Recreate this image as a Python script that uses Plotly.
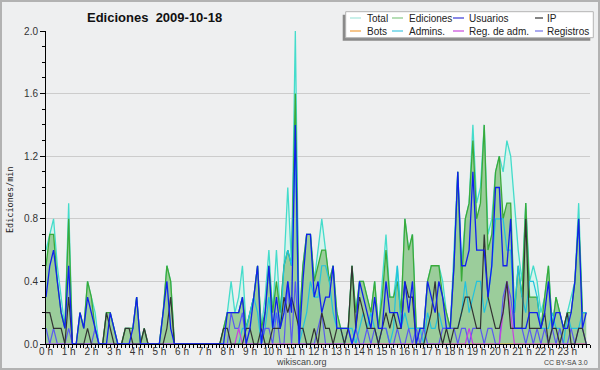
import pandas as pd
import plotly.graph_objects as go

# ---- data: 10-minute steps of 2009-10-18, values in edits/min ----
times = pd.date_range("2009-10-18 00:00", periods=144, freq="10min")
hour_ticks = pd.date_range("2009-10-18 00:00", periods=24, freq="h")
hour_labels = ["0 h", "1 h", "2 h", "3 h", "4 h", "5 h", "6 h", "7 h", "8 h", "9 h", "10 h", "11 h",
               "12 h", "13 h", "14 h", "15 h", "16 h", "17 h", "18 h", "19 h", "20 h", "21 h", "22 h", "23 h"]

total = [0.6,0.7,0.8,0.5,0.3,0.1, 0.9,0,0,0.2,0.1,0.4, 0.3,0.2,0,0,0.2,0.2, 0.1,0,0,0.1,0.1,0.1,
         0.3,0,0.1,0,0,0, 0,0.2,0.5,0.4,0,0, 0,0,0,0,0,0, 0,0,0,0,0,0.1,
         0.2,0.4,0.2,0.3,0.5,0.1, 0.2,0.3,0.5,0.1,0.3,0.6, 0.2,0.6,0.2,0.5,1.0,0.5, 2.0,0.1,0.5,0.7,0.7,0.4,
         0.6,0.8,0.6,0.4,0.5,0.2, 0.1,0.1,0.1,0.5,0.2,0.4, 0.4,0.3,0.2,0.4,0.1,0.4, 0.7,0.3,0.3,0.5,0.2,0.8,
         0.6,0.7,0.1,0.1,0.1,0.4, 0.5,0.5,0.5,0.4,0.2,0.1, 0.6,1.1,0.5,0.8,0.9,1.4, 0.9,1.0,1.4,0.7,0.8,1.1,
         1.2,1.1,1.3,1.2,0.9,0.6, 0.4,0.9,0.4,0.5,0.4,0.2, 0.3,0.5,0.1,0.3,0.2,0.1, 0.2,0.3,0.4,0.9,0.2,0.2]

ediciones = [0.5,0.7,0.7,0.4,0.2,0.1, 0.8,0,0,0.2,0.1,0.4, 0.3,0.1,0,0,0.2,0.2, 0.1,0,0,0.1,0.1,0.1,
             0.3,0,0.1,0,0,0, 0,0.2,0.5,0.4,0,0, 0,0,0,0,0,0, 0,0,0,0,0,0.1,
             0.2,0.2,0.2,0.2,0.3,0.1, 0.2,0.3,0.5,0.1,0.2,0.5, 0.2,0.4,0.2,0.5,0.6,0.5, 1.6,0.1,0.5,0.7,0.7,0.4,
             0.5,0.6,0.6,0.4,0.5,0.2, 0.1,0.1,0.1,0.5,0.2,0.4, 0.4,0.3,0.2,0.4,0.1,0.3, 0.6,0.3,0.3,0.4,0.2,0.8,
             0.6,0.7,0.1,0.1,0.1,0.4, 0.5,0.5,0.5,0.3,0.2,0.1, 0.5,1.1,0.4,0.8,0.9,1.3, 0.8,0.9,1.4,0.6,0.7,1.1,
             1.2,0.8,0.9,0.9,0.2,0.5, 0.3,0.9,0.3,0.3,0.3,0.1, 0.3,0.5,0.1,0.3,0.2,0.1, 0.2,0.2,0.4,0.8,0.2,0.2]

usuarios = [0.3,0.5,0.6,0.4,0.2,0.1, 0.5,0,0,0.2,0.1,0.3, 0.2,0.1,0,0,0,0.2, 0.1,0,0,0,0,0.1,
            0.3,0,0,0,0,0, 0,0.2,0.4,0.1,0,0, 0,0,0,0,0,0, 0,0,0,0,0,0,
            0.2,0.2,0.2,0.2,0.3,0, 0.1,0.3,0.5,0,0.2,0.5, 0.1,0.3,0.1,0.2,0.4,0.2, 1.4,0,0.4,0.7,0.7,0.3,
            0.4,0.2,0.3,0.3,0.5,0.1, 0.1,0.1,0.1,0,0.1,0.4, 0.3,0.2,0.1,0.3,0.1,0.1, 0.4,0.2,0.2,0.2,0.1,0.4,
            0.2,0.4,0,0.1,0.1,0.4, 0.3,0.2,0.4,0.3,0.1,0.1, 0.5,1.1,0.5,0.5,0.6,1.1, 0.6,0.6,0.6,0.3,0.5,1.0,
            1.0,0.5,0.5,0.8,0.1,0.1, 0.1,0.1,0.2,0.2,0.2,0.1, 0.2,0.4,0.1,0.2,0.2,0.1, 0.1,0.2,0.4,0.8,0.1,0.2]

ip = [0.2,0.2,0.1,0.1,0.1,0, 0.3,0,0,0,0,0.1, 0,0,0,0,0.2,0.1, 0,0,0,0.1,0.1,0,
      0,0,0.1,0,0,0, 0,0,0.1,0.3,0,0, 0,0,0,0,0,0, 0,0,0,0,0,0.1,
      0.1,0,0,0,0,0.1, 0.1,0,0,0.1,0,0, 0.1,0.1,0.1,0.3,0.2,0.3, 0.2,0.1,0.1,0,0,0.1,
      0,0.2,0.1,0.1,0,0.1, 0.1,0,0.1,0.5,0.1,0.3, 0.2,0.1,0.1,0.1,0,0.1, 0.2,0.1,0.2,0.1,0.1,0.4,
      0.3,0.3,0,0,0,0.1, 0.2,0.4,0.1,0,0.1,0, 0.1,0.1,0.2,0.3,0.3,0.2, 0.1,0.1,0.7,0.3,0.2,0.1,
      0.1,0.2,0.4,0.1,0.1,0.1, 0.1,0.8,0.1,0.1,0.1,0.1, 0.2,0,0.1,0.1,0,0.1, 0.2,0,0,0.1,0.1,0]

bots = [0] * 144

admins = [0,0,0,0,0,0, 0,0,0,0,0,0, 0,0,0,0,0,0, 0,0,0,0,0,0,
          0,0,0,0,0,0, 0,0,0,0,0,0, 0,0,0,0,0,0, 0,0,0,0,0,0,
          0,0,0,0,0.1,0.1, 0.2,0.3,0.2,0,0.1,0.3, 0.1,0.2,0.1,0.5,0.6,0.5, 1.3,0,0.1,0.2,0.4,0.3,
          0.3,0.5,0.5,0.4,0.2,0.1, 0.1,0,0.1,0.1,0,0.1, 0.2,0.1,0.2,0.1,0,0.1, 0.1,0,0.1,0.5,0.1,0.2,
          0.1,0.1,0.1,0.1,0,0.2, 0.1,0.1,0.2,0.1,0.1,0.1, 0.1,0.1,0.2,0.4,0.2,0.3, 0.4,0.4,0.2,0.3,0.5,0.8,
          0.8,0.8,0.6,0.6,0.2,0.5, 0.3,0.2,0.4,0.4,0.3,0.1, 0.1,0.1,0.2,0.1,0.1,0, 0.2,0.1,0.1,0.1,0.2,0.2]

reg_adm = [0,0,0,0,0,0, 0,0,0,0,0,0, 0,0,0,0,0,0, 0,0,0,0,0,0,
           0,0,0,0,0,0, 0,0,0,0,0,0, 0,0,0,0,0,0, 0,0,0,0,0,0,
           0,0,0,0.1,0,0, 0,0,0,0,0,0, 0,0,0,0,0,0, 0,0,0,0,0,0,
           0,0,0,0,0,0, 0,0,0,0,0,0, 0,0,0,0,0,0, 0,0,0,0,0,0,
           0,0,0,0,0,0, 0,0,0,0,0,0, 0,0,0,0,0.1,0, 0,0,0,0,0,0,
           0,0.2,0.4,0.2,0,0, 0,0,0,0,0,0, 0,0,0,0,0,0, 0,0,0,0,0,0]

registros = [0.1,0,0.1,0,0,0, 0.1,0,0,0,0,0, 0,0.1,0,0,0,0, 0,0,0,0,0,0,
             0,0,0,0,0,0, 0,0,0,0,0,0, 0,0,0,0,0,0, 0,0,0,0,0,0,
             0,0.2,0.1,0.1,0.2,0, 0,0,0,0,0.1,0.1, 0,0.2,0,0,0.4,0, 0.4,0,0,0,0,0,
             0.1,0.2,0,0,0,0, 0,0,0.1,0,0.1,0, 0,0.1,0,0.1,0,0.1, 0.1,0,0,0.1,0,0,
             0.1,0,0.1,0,0.1,0, 0,0,0,0.1,0.1,0.1, 0.1,0,0.1,0.1,0,0.1, 0.1,0.1,0,0.1,0.1,0,
             0,0.3,0.4,0.3,0.1,0.1, 0.1,0,0.1,0,0.1,0, 0.1,0,0.1,0,0.1,0, 0,0.1,0,0.1,0.1,0]

legend_labels = ["Total", "Ediciones", "Usuarios", "IP", "Bots", "Admins.", "Reg. de adm.", "Registros"]
legend_colors = ["#a6e6dc", "#86c886", "#3a3ad6", "#333333", "#f0a040", "#44c6e0", "#c848dc", "#7272e6"]

title_text = "Ediciones\u00a0\u00a02009-10-18"
y_title = "Ediciones/min"
FONT = "Liberation Sans, Arial, sans-serif"
BG = "#eeeff0"

fig = go.Figure()
fig.add_trace(go.Scatter(x=times, y=total, mode="lines", fill="tozeroy",
                         fillcolor="#d7f3ec", line=dict(color="#44dccb", width=1.3)))
fig.add_trace(go.Scatter(x=times, y=ediciones, mode="lines", fill="tozeroy",
                         fillcolor="#9bcd9b", line=dict(color="#3aaa3a", width=1.3)))
fig.add_trace(go.Scatter(x=times, y=bots, mode="lines", line=dict(color="#f0a040", width=1.2)))
fig.add_trace(go.Scatter(x=times, y=admins, mode="lines", line=dict(color="#22c2de", width=1.2)))
fig.add_trace(go.Scatter(x=times, y=registros, mode="lines", line=dict(color="#5a5af0", width=1.2)))
fig.add_trace(go.Scatter(x=times, y=reg_adm, mode="lines", line=dict(color="#c840e0", width=1.2)))
fig.add_trace(go.Scatter(x=times, y=ip, mode="lines", line=dict(color="#333333", width=1.2)))
fig.add_trace(go.Scatter(x=times, y=usuarios, mode="lines", line=dict(color="#1020ee", width=1.3)))

L, R, T, B = 46, 10, 31, 26
PW, PH = 600 - L - R, 370 - T - B


def px(x):
    return (x - L) / PW


def py(y):
    return (370 - B - y) / PH


shapes = [
    dict(type="rect", xref="paper", yref="paper", x0=px(1), x1=px(599), y0=py(369), y1=py(1),
         line=dict(color="#b2b2b2", width=2), fillcolor="rgba(0,0,0,0)", layer="below"),
    dict(type="rect", xref="paper", yref="paper", x0=px(342.7), x1=px(590.3), y0=py(40.7), y1=py(14.7),
         line=dict(width=0), fillcolor="#8a8a8a"),
    dict(type="rect", xref="paper", yref="paper", x0=px(345.7), x1=px(593.3), y0=py(37.7), y1=py(11.7),
         line=dict(color="#b4b4b4", width=1), fillcolor="#ffffff"),
]
annotations = [
    dict(text="<b>" + title_text + "</b>", xref="paper", yref="paper", x=px(154), y=py(17),
         xanchor="center", yanchor="middle", showarrow=False, font=dict(family=FONT, size=13, color="#111")),
    dict(text=y_title, xref="paper", yref="paper", x=px(10), y=py(200), textangle=-90,
         xanchor="center", yanchor="middle", showarrow=False, font=dict(family="DejaVu Sans Mono", size=8.5, color="#222")),
    dict(text="wikiscan.org", xref="paper", yref="paper", x=px(301), y=py(362),
         xanchor="center", yanchor="middle", showarrow=False, font=dict(family=FONT, size=9, color="#444")),
    dict(text="CC BY-SA 3.0", xref="paper", yref="paper", x=px(590), y=py(362),
         xanchor="right", yanchor="middle", showarrow=False, font=dict(family=FONT, size=7, color="#444")),
]
col_line = [(350, 361), (392, 403), (453, 464), (535, 543)]
col_text = [365, 407, 467, 545]
row_y = [18, 31]
for k, (lab, col) in enumerate(zip(legend_labels, legend_colors)):
    r, c = divmod(k, 4)
    shapes.append(dict(type="line", xref="paper", yref="paper", x0=px(col_line[c][0]), x1=px(col_line[c][1]),
                       y0=py(row_y[r]), y1=py(row_y[r]), line=dict(color=col, width=1.2)))
    annotations.append(dict(text=lab, xref="paper", yref="paper", x=px(col_text[c]), y=py(row_y[r]),
                            xanchor="left", yanchor="middle", showarrow=False,
                            font=dict(family=FONT, size=10, color="#222")))

fig.update_layout(
    width=600, height=370, margin=dict(l=L, r=R, t=T, b=B),
    paper_bgcolor=BG, plot_bgcolor=BG, showlegend=False,
    font=dict(family=FONT, size=10, color="#333"),
    shapes=shapes, annotations=annotations,
    xaxis=dict(type="date", range=["2009-10-18 00:00:00", "2009-10-19 00:00:00"],
               tickmode="array", tickvals=hour_ticks, ticktext=hour_labels, tickangle=0,
               showgrid=False, zeroline=False, showline=True, linecolor="#000", linewidth=1,
               ticks="outside", ticklen=3, tickcolor="#000", ticklabelstandoff=-5,
               minor=dict(dtick=600000, tick0="2009-10-18 00:00", ticks="outside", ticklen=3,
                          tickcolor="#000", showgrid=False),
               tickfont=dict(family=FONT, size=10, color="#333")),
    yaxis=dict(range=[0, 2.0], dtick=0.4, tickformat=".1f", showgrid=True, gridcolor="#cccccc",
               gridwidth=1, zeroline=False, showline=True, linecolor="#000", linewidth=1,
               ticks="outside", ticklen=5, tickcolor="#000",
               minor=dict(dtick=0.1, ticks="outside", ticklen=3, tickcolor="#000", showgrid=False),
               tickfont=dict(family=FONT, size=10, color="#333")),
)

fig.write_html("out.html", config={"displayModeBar": False},
               post_script="document.body.style.margin='0';document.body.style.padding='0';")
